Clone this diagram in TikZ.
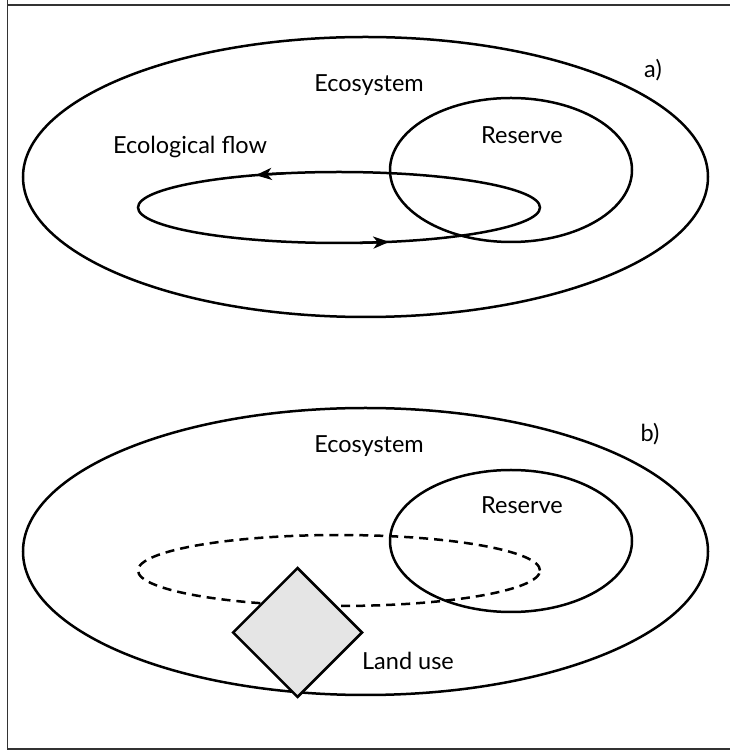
\documentclass[tikz,border=0pt]{standalone}
\usepackage{fontspec}
\setmainfont{Lato}
\usetikzlibrary{arrows.meta,shapes.geometric}
\begin{document}
\begin{tikzpicture}[x=1pt,y=1pt,
  line/.style={line width=2.5pt,black},
  lbl/.style={font=\fontsize{23.5}{28}\selectfont,inner sep=0pt},
  flowtip/.style={-{Stealth[length=16pt,width=12pt,inset=4.5pt]},line width=2.5pt}]
\useasboundingbox (0,0) rectangle (730,750);
% frame
\draw[line width=1.8pt,black!80] (7.5,750) -- (7.5,1) -- (735,1) (7.5,745) -- (735,745);

% ---------- panel a ----------
\draw[line] (365.5,573) ellipse[x radius=342.5,y radius=140];
\draw[line] (511,580) ellipse[x radius=121,y radius=72];
\draw[line] (339,542.5) ellipse[x radius=201,y radius=35.5];
\draw[flowtip] (339,542.5) ++(106:201 and 35.5) arc[start angle=106,end angle=114.5,x radius=201,y radius=35.5];
\draw[flowtip] (339,542.5) ++(276:201 and 35.5) arc[start angle=276,end angle=284.5,x radius=201,y radius=35.5];
\node[lbl] (ecoA) at (369,665) {Ecosystem};
\node[lbl] (resA) at (522,615) {Reserve};
\node[lbl] (flow) at (190,603) {Ecological flow};
\node[lbl] (tagA) at (653,680) {a)};

% ---------- panel b ----------
\draw[line] (365.5,198.5) ellipse[x radius=342.5,y radius=143.5];
\draw[line] (511,209) ellipse[x radius=121,y radius=71];
\draw[line,dashed,dash pattern=on 9pt off 6pt] (339,179.5) ellipse[x radius=201,y radius=35.5];
\node[line,draw,fill=black!10,diamond,minimum size=130pt,inner sep=0pt,aspect=1] (land) at (297.5,117.5) {};
\node[lbl] (ecoB) at (369,304) {Ecosystem};
\node[lbl] (resB) at (522,245) {Reserve};
\node[lbl] (landlbl) at (408,89) {Land use};
\node[lbl] (tagB) at (650,316) {b)};
\end{tikzpicture}
\end{document}
